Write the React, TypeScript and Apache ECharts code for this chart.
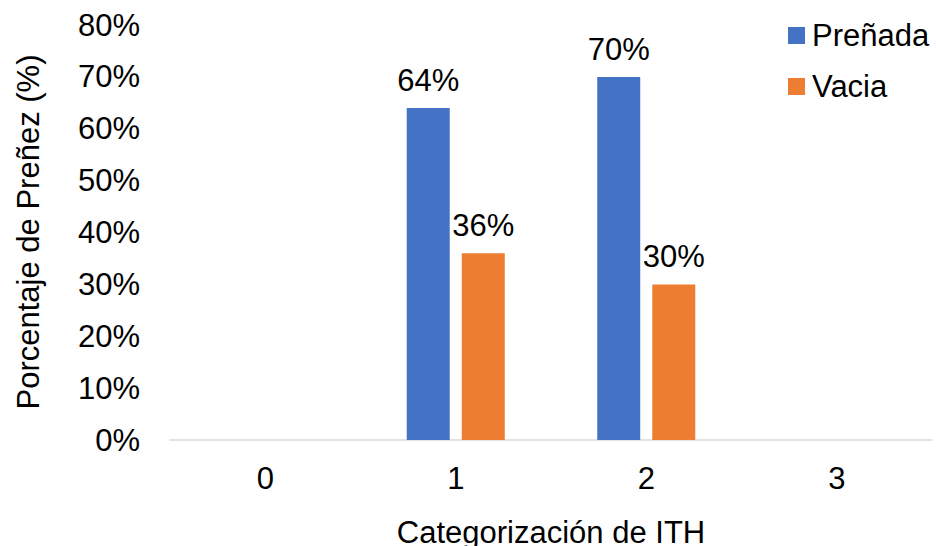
import React, { useEffect, useRef } from "react";
import * as echarts from "echarts";

const categories = ["0", "1", "2", "3"];
const prenada = [null, 0.64, 0.7, null];
const vacia = [null, 0.36, 0.3, null];
const seriesNames = ["Preñada", "Vacia"];
const colors = ["#4472C4", "#ED7D31"];
const xTitle = "Categorización de ITH";
const yTitle = "Porcentaje de Preñez (%)";

const FONT = "Liberation Sans, Arial, sans-serif";
const FS = 31;

export default function App() {
  const ref = useRef<HTMLDivElement>(null);
  useEffect(() => {
    const chart = echarts.init(ref.current!, null, { renderer: "svg" });
    const pct = (v: number) => Math.round(v * 100) + "%";
    chart.setOption({
      animation: false,
      textStyle: { fontFamily: FONT },
      legend: {
        orient: "vertical",
        left: 788,
        top: 20,
        padding: 0,
        itemWidth: 17,
        itemHeight: 17,
        itemGap: 20,
        icon: "rect",
        textStyle: { fontSize: FS, color: "#000", fontFamily: FONT, padding: [0, 0, 0, 2] },
        data: seriesNames,
      },
      grid: { left: 170, right: 4, top: 25, bottom: 106, containLabel: false, outerBoundsMode: "none" },
      graphic: [
        {
          type: "text",
          x: 551,
          y: 532,
          style: { text: xTitle, fontSize: FS, fontFamily: FONT, fill: "#000", align: "center", verticalAlign: "middle" },
        },
        {
          type: "text",
          x: 28,
          y: 232,
          rotation: Math.PI / 2,
          style: { text: yTitle, fontSize: FS, fontFamily: FONT, fill: "#000", align: "center", verticalAlign: "middle" },
        },
      ],
      xAxis: {
        type: "category",
        data: categories,
        axisLine: { lineStyle: { color: "#d9d9d9", width: 1.5 } },
        axisTick: { show: false },
        axisLabel: { fontSize: FS, color: "#000", margin: 23, fontFamily: FONT },
      },
      yAxis: {
        type: "value",
        min: 0,
        max: 0.8,
        interval: 0.1,
        splitLine: { show: false },
        axisLine: { show: false },
        axisTick: { show: false },
        axisLabel: { fontSize: FS, color: "#000", margin: 30, fontFamily: FONT, formatter: pct },
      },
      series: [
        {
          name: seriesNames[0],
          type: "bar",
          data: prenada,
          barWidth: 43,
          barGap: "28%",
          itemStyle: { color: colors[0] },
          label: { show: true, position: "top", distance: 12, fontSize: FS, color: "#000", fontFamily: FONT, formatter: (p: any) => pct(p.value) },
        },
        {
          name: seriesNames[1],
          type: "bar",
          data: vacia,
          barWidth: 43,
          itemStyle: { color: colors[1] },
          label: { show: true, position: "top", distance: 12, fontSize: FS, color: "#000", fontFamily: FONT, formatter: (p: any) => pct(p.value) },
        },
      ],
    });
    return () => chart.dispose();
  }, []);
  return <div ref={ref} style={{ width: 936, height: 546, position: "absolute", left: 0, top: 0 }} />;
}
